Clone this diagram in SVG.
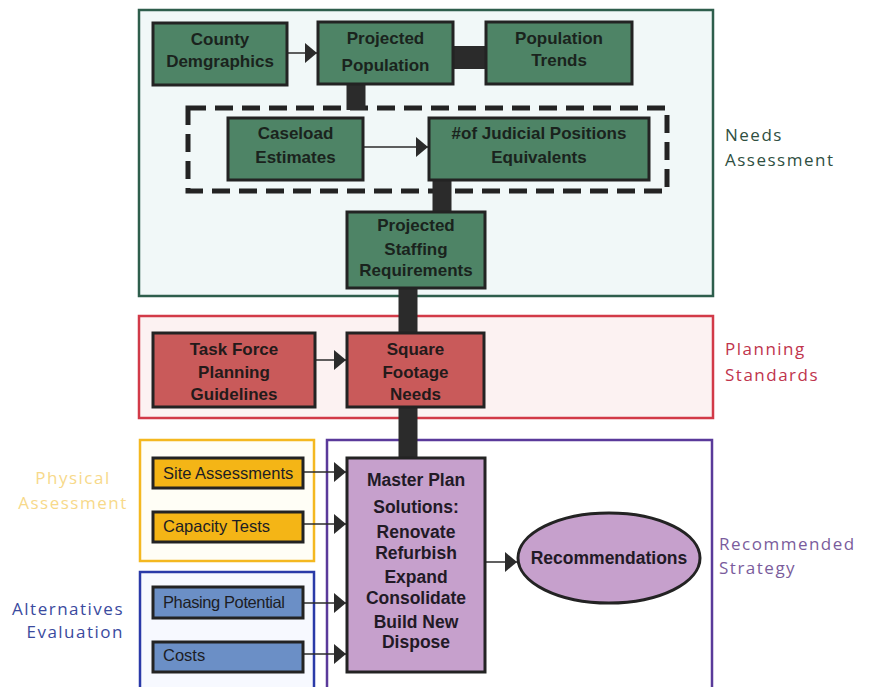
<svg xmlns="http://www.w3.org/2000/svg" width="876" height="687" viewBox="0 0 876 687">
<defs>
<style>
.node{stroke:#232323;stroke-width:3}
.g{fill:#4e8466}
.r{fill:#c95a5a}
.y{fill:#f4b516}
.b{fill:#6b8fc6}
.p{fill:#c6a0cc}
.t{font-family:"Liberation Sans",Arial,sans-serif;font-weight:bold;font-size:17px;text-anchor:middle;fill:#1a231d}
.s{font-family:"Liberation Sans",Arial,sans-serif;font-size:16.5px;fill:#1d1d24}
.lab{font-family:"Open Sans","DejaVu Sans",sans-serif;font-size:17px;letter-spacing:1.5px}
.thick{stroke:#2b2b2b;stroke-width:19;fill:none}
.thin{stroke:#2b2b2b;stroke-width:1.5;fill:none}
</style>
<marker id="ah" markerUnits="userSpaceOnUse" markerWidth="13" markerHeight="20" refX="12" refY="10" orient="auto">
<path d="M0,0 L12,10 L0,20 Z" fill="#2b2b2b"/>
</marker>
</defs>
<rect width="876" height="687" fill="#ffffff"/>

<g id="group-needs">
<rect x="139" y="10" width="574" height="286" fill="#f1f8f8" stroke="#2e5e4c" stroke-width="2.5"/>
<text class="lab" fill="#2f4f3f"><tspan x="725" y="141">Needs</tspan><tspan x="725" y="166">Assessment</tspan></text>
</g>
<g id="group-planning">
<rect x="139" y="316" width="574" height="102" fill="#fcf2f2" stroke="#d23a48" stroke-width="2.5"/>
<text class="lab" fill="#c0344c"><tspan x="725" y="355">Planning</tspan><tspan x="725" y="381">Standards</tspan></text>
</g>
<g id="group-physical">
<rect x="140" y="440" width="174" height="121" fill="#fffef6" stroke="#f4b820" stroke-width="2.5"/>
<text class="lab" fill="#f7d98a" text-anchor="middle"><tspan x="73" y="484">Physical</tspan><tspan x="73" y="509">Assessment</tspan></text>
</g>
<g id="group-alternatives">
<rect x="140" y="572" width="174" height="125" fill="#f7f9ff" stroke="#2a3aa8" stroke-width="2.5"/>
<text class="lab" fill="#3a4a9e" text-anchor="end"><tspan x="124" y="615">Alternatives</tspan><tspan x="124" y="638">Evaluation</tspan></text>
</g>
<g id="group-recommended">
<rect x="327" y="440" width="385" height="257" fill="#ffffff" stroke="#5a3a9a" stroke-width="2.5"/>
<text class="lab" fill="#7a5c9c"><tspan x="719" y="550">Recommended</tspan><tspan x="719" y="574">Strategy</tspan></text>
</g>

<g id="dashed-group">
<rect x="188" y="108" width="479" height="83" fill="none" stroke="#232323" stroke-width="5" stroke-dasharray="18 9"/>
</g>

<g id="connectors">
<line class="thick" x1="452" y1="57.5" x2="486" y2="57.5" style="stroke-width:23"/>
<line class="thick" x1="356" y1="84" x2="356" y2="110"/>
<line class="thick" x1="442" y1="180" x2="442" y2="212"/>
<line class="thick" x1="408" y1="288" x2="408" y2="333"/>
<line class="thick" x1="408" y1="407" x2="408" y2="458"/>
<line class="thin" x1="287" y1="53" x2="317" y2="53" marker-end="url(#ah)"/>
<line class="thin" x1="363" y1="147" x2="428" y2="147" marker-end="url(#ah)"/>
<line class="thin" x1="315" y1="360" x2="346" y2="360" marker-end="url(#ah)"/>
<line class="thin" x1="303" y1="472" x2="346" y2="472" marker-end="url(#ah)"/>
<line class="thin" x1="303" y1="524" x2="346" y2="524" marker-end="url(#ah)"/>
<line class="thin" x1="303" y1="603" x2="346" y2="603" marker-end="url(#ah)"/>
<line class="thin" x1="303" y1="654" x2="346" y2="654" marker-end="url(#ah)"/>
<line class="thin" x1="485" y1="562" x2="517" y2="562" marker-end="url(#ah)"/>
</g>

<g id="county-demographics">
<rect class="node g" x="153" y="23" width="134" height="62"/>
<text class="t"><tspan x="220" y="45">County</tspan><tspan x="220" y="67">Demgraphics</tspan></text>
</g>
<g id="projected-population">
<rect class="node g" x="318" y="22" width="135" height="62"/>
<text class="t"><tspan x="385.5" y="44">Projected</tspan><tspan x="385.5" y="71">Population</tspan></text>
</g>
<g id="population-trends">
<rect class="node g" x="486" y="22" width="146" height="62"/>
<text class="t"><tspan x="559" y="44">Population</tspan><tspan x="559" y="66">Trends</tspan></text>
</g>
<g id="caseload-estimates">
<rect class="node g" x="228" y="118" width="135" height="62"/>
<text class="t"><tspan x="295.5" y="139">Caseload</tspan><tspan x="295.5" y="163">Estimates</tspan></text>
</g>
<g id="judicial-positions">
<rect class="node g" x="429" y="118" width="220" height="62"/>
<text class="t"><tspan x="539" y="139">#of Judicial Positions</tspan><tspan x="539" y="163">Equivalents</tspan></text>
</g>
<g id="projected-staffing">
<rect class="node g" x="347" y="212" width="138" height="76"/>
<text class="t"><tspan x="416" y="231">Projected</tspan><tspan x="416" y="255">Staffing</tspan><tspan x="416" y="276">Requirements</tspan></text>
</g>
<g id="task-force">
<rect class="node r" x="153" y="333" width="162" height="74"/>
<text class="t" style="fill:#241a1a"><tspan x="234" y="355">Task Force</tspan><tspan x="234" y="378">Planning</tspan><tspan x="234" y="400">Guidelines</tspan></text>
</g>
<g id="square-footage">
<rect class="node r" x="347" y="333" width="137" height="74"/>
<text class="t" style="fill:#241a1a"><tspan x="415.5" y="355">Square</tspan><tspan x="415.5" y="378">Footage</tspan><tspan x="415.5" y="400">Needs</tspan></text>
</g>
<g id="site-assessments">
<rect class="node y" x="153" y="458" width="150" height="30"/>
<text class="s" x="163" y="479">Site Assessments</text>
</g>
<g id="capacity-tests">
<rect class="node y" x="153" y="512" width="150" height="30"/>
<text class="s" x="163" y="532">Capacity Tests</text>
</g>
<g id="phasing-potential">
<rect class="node b" x="153" y="587" width="150" height="31"/>
<text class="s" x="163" y="608" style="letter-spacing:-0.4px">Phasing Potential</text>
</g>
<g id="costs">
<rect class="node b" x="153" y="642" width="150" height="30"/>
<text class="s" x="163" y="661">Costs</text>
</g>
<g id="master-plan">
<rect class="node p" x="347" y="458" width="138" height="214"/>
<text class="t" style="fill:#221a26;font-size:17.5px"><tspan x="416" y="486">Master Plan</tspan><tspan x="416" y="513">Solutions:</tspan><tspan x="416" y="538">Renovate</tspan><tspan x="416" y="559">Refurbish</tspan><tspan x="416" y="583">Expand</tspan><tspan x="416" y="604">Consolidate</tspan><tspan x="416" y="628">Build New</tspan><tspan x="416" y="648">Dispose</tspan></text>
</g>
<g id="recommendations">
<ellipse class="node p" cx="609" cy="558" rx="91" ry="45"/>
<text class="t" x="609" y="564" style="fill:#221a26;font-size:17.5px">Recommendations</text>
</g>
</svg>
